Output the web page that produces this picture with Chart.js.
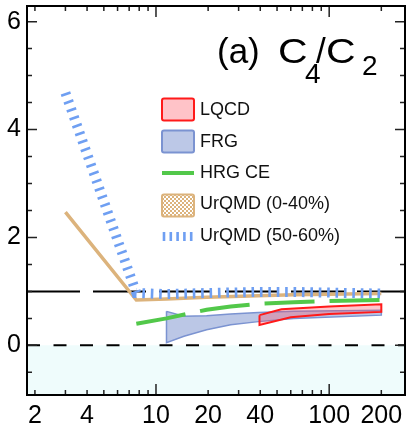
<!DOCTYPE html>
<html><head><meta charset="utf-8">
<script src="https://cdn.jsdelivr.net/npm/chart.js@4/dist/chart.umd.min.js"></script>
<style>html,body{margin:0;padding:0;background:#fff;}#wrap{width:407px;height:425px;}</style>
</head><body><div id="wrap"><canvas id="c" width="407" height="425"></canvas></div>
<script>
// ---- tick values / labels ----
const xTickValues = [2,3,4,5,6,7,8,9,10,20,30,40,50,60,70,80,90,100,200];
const xTickLabels = [2,4,10,20,40,100,200];
const yTickValues = [-0.5,0,0.5,1,1.5,2,2.5,3,3.5,4,4.5,5,5.5,6];
const yTickLabels = [0,2,4,6];

// ---- LQCD band ----
const lqcdUpperX = [39.6, 53, 100, 200];
const lqcdUpperY = [0.56, 0.67, 0.72, 0.76];
const lqcdLowerX = [39.6, 60, 100, 200];
const lqcdLowerY = [0.38, 0.52, 0.58, 0.62];

// ---- FRG band ----
const frgUpperX = [11.5, 14.5, 19.6, 27, 39, 62.4, 200];
const frgUpperY = [0.63, 0.54, 0.55, 0.58, 0.61, 0.63, 0.65];
const frgLowerX = [11.5, 14.5, 19.6, 27, 39, 62.4, 200];
const frgLowerY = [0.05, 0.17, 0.29, 0.38, 0.44, 0.50, 0.56];

// ---- HRG CE ----
const hrgX = [7.7, 11.5, 15, 19.6, 27, 39, 62.4, 100, 200];
const hrgY = [0.40, 0.50, 0.58, 0.66, 0.72, 0.77, 0.80, 0.82, 0.84];

// ---- UrQMD (0-40%) ----
const urqmdCentX = [3, 7.7, 11.5, 19.6, 39, 62.4, 200];
const urqmdCentY = [2.47, 0.84, 0.86, 0.89, 0.92, 0.94, 0.96];

// ---- UrQMD (50-60%) ----
const urqmdPeriX = [3, 7.7, 11.5, 19.6, 39, 62.4, 200];
const urqmdPeriY = [4.68, 0.97, 0.95, 0.97, 0.99, 0.99, 0.96];

// ---- reference lines ----
const xRange = [1.8, 274];
const yRange = [-0.92, 6.29];
const refOne = 1;
const refZero = 0;

const FONT = '"Liberation Sans", Arial, Helvetica, sans-serif';

function pts(xs, ys){ return xs.map((x,i)=>({x:x, y:ys[i]})); }
function band(ux, uy, lx, ly){
  const up = pts(ux, uy);
  const lo = pts(lx, ly).reverse();
  return up.concat(lo, [up[0]]);
}

const COL = {
  red:'#ff1a1a', redFill:'rgba(255,70,90,0.30)',
  frg:'#7b93d1', frgFill:'rgba(125,148,208,0.52)',
  green:'#52c84a', tan:'#dcb37c', blue:'#6f9ff2', cyan:'#effcfc'
};

const datasets = [
  {label:'zero', data:pts(xRange,[refZero,refZero]), fill:'start', backgroundColor:COL.cyan,
   borderColor:'#000', borderWidth:2, borderDash:[13,13.5], order:10},
  {label:'one', data:pts(xRange,[refOne,refOne]), fill:false,
   borderColor:'#000', borderWidth:2, borderDash:[53,13], order:9},
  {label:'FRG', data:band(frgUpperX,frgUpperY,frgLowerX,frgLowerY), fill:'shape',
   backgroundColor:COL.frgFill, borderColor:COL.frg, borderWidth:1.5, order:8},
  {label:'UrQMD (0-40%)', data:pts(urqmdCentX,urqmdCentY), fill:false,
   borderColor:COL.tan, borderWidth:3.5, order:7},
  {label:'UrQMD (50-60%)', data:pts(urqmdPeriX,urqmdPeriY), fill:false,
   borderColor:COL.blue, borderWidth:10, borderDash:[2.6,5.8], borderCapStyle:'butt', order:6},
  {label:'LQCD', data:band(lqcdUpperX,lqcdUpperY,lqcdLowerX,lqcdLowerY), fill:'shape',
   backgroundColor:COL.redFill, borderColor:COL.red, borderWidth:2, order:5},
  {label:'HRG CE', data:pts(hrgX,hrgY), fill:false,
   borderColor:COL.green, borderWidth:4, borderDash:[50,15], borderCapStyle:'butt', order:4}
];
datasets.forEach(d=>{ d.pointRadius=0; d.tension=0; d.borderJoinStyle='miter'; });

// checker pattern for legend
function checker(){
  const c = document.createElement('canvas'); c.width=4; c.height=4;
  const g = c.getContext('2d');
  g.fillStyle='#fff'; g.fillRect(0,0,4,4);
  g.fillStyle=COL.tan; g.fillRect(0,0,2,2); g.fillRect(2,2,2,2);
  return c;
}

function wideText(ctx, s, x, y, sx){
  ctx.save(); ctx.translate(x,y); ctx.scale(sx,1); ctx.fillText(s,0,0); ctx.restore();
}

const decor = {
  id:'decor',
  afterDraw(chart){
    const ctx = chart.ctx, a = chart.chartArea;
    const xs = chart.scales.x, ys = chart.scales.y;
    ctx.save();
    // ticks inward
    ctx.strokeStyle='#222'; ctx.lineWidth=1.5;
    ctx.beginPath();
    xs.ticks.forEach(t=>{
      const p = xs.getPixelForValue(t.value);
      const L = (t.value===10||t.value===100) ? 11 : 5;
      ctx.moveTo(p,a.bottom); ctx.lineTo(p,a.bottom-L);
      ctx.moveTo(p,a.top); ctx.lineTo(p,a.top+L);
    });
    ys.ticks.forEach(t=>{
      const p = ys.getPixelForValue(t.value);
      const L = yTickLabels.includes(t.value) ? 10 : 5;
      ctx.moveTo(a.left,p); ctx.lineTo(a.left+L,p);
      ctx.moveTo(a.right,p); ctx.lineTo(a.right-L,p);
    });
    ctx.stroke();
    // frame
    ctx.strokeStyle='#000'; ctx.lineWidth=2;
    ctx.strokeRect(a.left,a.top,a.right-a.left,a.bottom-a.top);

    // title
    ctx.fillStyle='#000'; ctx.textBaseline='alphabetic'; ctx.textAlign='left';
    ctx.font='35px '+FONT;
    ctx.fillText('(a)',217,63);
    wideText(ctx,'C',278,63,1.17);
    ctx.fillText('/',316,63);
    wideText(ctx,'C',326,63,1.17);
    ctx.font='28px '+FONT;
    ctx.fillText('4',305,83);
    ctx.fillText('2',362,75);

    // legend
    const bx=162, bw=32;
    ctx.lineWidth=2;
    ctx.fillStyle='#ffc3c8'; ctx.strokeStyle=COL.red;
    ctx.beginPath(); ctx.roundRect(bx,98.5,bw,22,2); ctx.fill(); ctx.stroke();
    ctx.fillStyle='#bcc8e7'; ctx.strokeStyle=COL.frg;
    ctx.beginPath(); ctx.roundRect(bx,130.5,bw,22,2); ctx.fill(); ctx.stroke();
    ctx.strokeStyle=COL.green; ctx.lineWidth=4;
    ctx.beginPath(); ctx.moveTo(bx,173); ctx.lineTo(bx+bw,173); ctx.stroke();
    ctx.lineWidth=2;
    ctx.fillStyle=ctx.createPattern(checker(),'repeat'); ctx.strokeStyle=COL.tan;
    ctx.beginPath(); ctx.roundRect(bx,194.5,bw,22,2); ctx.fill(); ctx.stroke();
    ctx.strokeStyle=COL.blue; ctx.lineWidth=2.6;
    ctx.beginPath();
    for(let i=0;i<5;i++){ const x=bx+2+i*6.8; ctx.moveTo(x,232); ctx.lineTo(x,241); }
    ctx.stroke();

    ctx.fillStyle='#111'; ctx.font='18px '+FONT; ctx.textBaseline='middle';
    ctx.fillText('LQCD',200,110);
    ctx.fillText('FRG',200,142);
    ctx.fillText('HRG CE',200,173.5);
    ctx.fillText('UrQMD (0-40%)',200,204.5);
    ctx.fillText('UrQMD (50-60%)',200,236);
    ctx.restore();
  }
};

function zeroPad(s){ s.paddingTop=0; s.paddingBottom=0; s.paddingLeft=0; s.paddingRight=0; }

new Chart(document.getElementById('c'), {
  type:'line',
  data:{datasets:datasets},
  options:{
    responsive:false, animation:false, devicePixelRatio:1,
    layout:{padding:{top:6,right:2,left:0,bottom:0}},
    plugins:{legend:{display:false}, tooltip:{enabled:false}},
    scales:{
      x:{type:'logarithmic', min:xRange[0], max:xRange[1],
         grid:{display:false, drawTicks:false}, border:{display:false},
         afterBuildTicks:s=>{ s.ticks = xTickValues.map(v=>({value:v})); },
         afterFit:s=>{ s.height=30; zeroPad(s); },
         ticks:{autoSkip:false, maxRotation:0, minRotation:0, padding:6, color:'#000',
                font:{family:FONT, size:25},
                callback:v=> xTickLabels.includes(v) ? String(v) : ''}},
      y:{type:'linear', min:yRange[0], max:yRange[1],
         grid:{display:false, drawTicks:false}, border:{display:false},
         afterBuildTicks:s=>{ s.ticks = yTickValues.map(v=>({value:v})); },
         afterFit:s=>{ s.width=27; zeroPad(s); },
         ticks:{autoSkip:false, padding:6, color:'#000',
                font:{family:FONT, size:25},
                callback:v=> yTickLabels.includes(v) ? String(v) : ''}}
    }
  },
  plugins:[decor]
});
</script>
</body></html>
